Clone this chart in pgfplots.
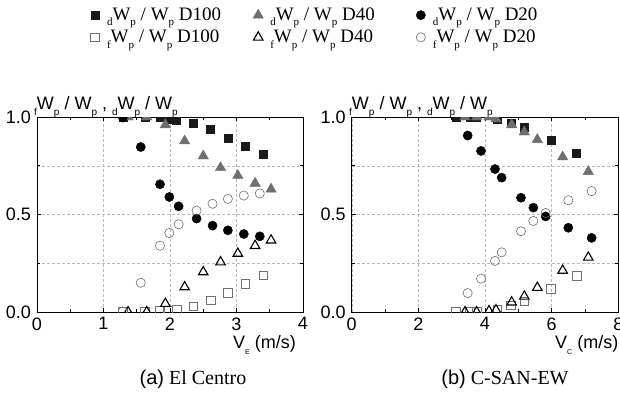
\documentclass[border=0pt]{standalone}
\usepackage{fontspec}
\setmainfont{Liberation Serif}
\setsansfont{Liberation Sans}
\usepackage{pgfplots}
\pgfplotsset{compat=1.18}
\newcommand\sbs[1]{\raisebox{-0.55ex}{\fontsize{10}{10}\selectfont #1}}
\newcommand\lsb[1]{\raisebox{-0.6ex}{\fontsize{11}{11}\selectfont #1}}
\definecolor{tri}{HTML}{6E6E6E}
\definecolor{opn}{HTML}{707070}
\pgfplotsset{
  myaxis/.style={
    scale only axis, height=195pt,
    ymin=0, ymax=1, ytick={0,0.5,1},
    minor ytick={0.25,0.75},
    yticklabels={0.0,0.5,1.0},
    xmajorgrids, ymajorgrids, yminorgrids,
    major grid style={densely dashed, gray!55, line width=0.4pt},
    minor grid style={densely dashed, gray!55, line width=0.4pt},
    tick align=inside, major tick length=4pt, minor tick length=3pt,
    tick style={black, line width=0.6pt},
    axis line style={line width=0.8pt},
    ticklabel style={font=\fontsize{18}{18}\sffamily},
    /pgf/number format/assume math mode=true,
    xticklabel style={yshift=-2pt},
    yticklabel style={xshift=-2.5pt},
    clip mode=individual, clip marker paths=true,
    legend image code/.code={\draw[mark repeat=2,mark phase=2,#1] plot coordinates {(0pt,0pt) (5pt,0pt) (10pt,0pt)}; \path[draw=none,fill=none,mark=none] (15pt,0pt) circle (0.01pt);},
  },
  sq/.style={only marks, mark=square*, mark size=4pt, mark options={fill=black!90, draw=black!90}},
  tr/.style={only marks, mark=triangle*, mark size=6pt, mark options={fill=tri, draw=tri}},
  ci/.style={only marks, mark=*, mark size=4.6pt, mark options={fill=black, draw=black}},
  osq/.style={only marks, mark=square, mark size=4.3pt, mark options={draw=opn, line width=0.6pt, fill=none}},
  otr/.style={only marks, mark=triangle, mark size=5.5pt, mark options={draw=black, line width=1.1pt, fill=none}},
  oci/.style={only marks, mark=o, mark size=4.6pt, mark options={draw=opn, line width=0.6pt, fill=none}},
}
\begin{document}
\begin{tikzpicture}[x=1pt,y=1pt]
\path[use as bounding box] (0,0) rectangle (620,394);
\begin{axis}[myaxis, at={(37pt,82pt)}, anchor=south west, width=266pt,
  xmin=0, xmax=4, xtick={0,1,2,3,4}, minor xtick={0.5,1.5,2.5,3.5},
  legend columns=3,
  legend cell align=left,
  legend style={draw=none, fill=none, at={(0.19,1.58)}, anchor=north west,
    font=\fontsize{19}{19}\selectfont, row sep=4pt,
    /tikz/every even column/.append style={column sep=14pt}},
]
\addplot[sq] coordinates {(1.29,1.0) (1.62,1.0) (1.85,1.0) (1.97,0.99) (2.10,0.985) (2.35,0.97) (2.61,0.935) (2.87,0.89) (3.13,0.85) (3.40,0.81)};
\addlegendentry{\makebox[130pt][l]{\lsb{d}W\lsb{p} / W\lsb{p} D100}}
\addplot[tr] coordinates {(1.37,1.0) (1.65,1.0) (1.93,0.96) (2.22,0.877) (2.50,0.80) (2.76,0.74) (3.02,0.70) (3.28,0.66) (3.52,0.63)};
\addlegendentry{\makebox[130pt][l]{\lsb{d}W\lsb{p} / W\lsb{p} D40}}
\addplot[ci] coordinates {(1.29,0.997) (1.56,0.846) (1.85,0.655) (1.99,0.59) (2.13,0.542) (2.40,0.479) (2.64,0.443) (2.87,0.419) (3.11,0.40) (3.35,0.388)};
\addlegendentry{\lsb{d}W\lsb{p} / W\lsb{p} D20}
\addplot[osq] coordinates {(1.29,0) (1.62,0) (1.85,0.005) (1.97,0.008) (2.10,0.012) (2.35,0.03) (2.61,0.06) (2.87,0.10) (3.13,0.145) (3.40,0.188)};
\addlegendentry{\makebox[130pt][l]{\lsb{f}W\lsb{p} / W\lsb{p} D100}}
\addplot[otr] coordinates {(1.37,0) (1.65,0) (1.93,0.043) (2.22,0.128) (2.50,0.205) (2.76,0.256) (3.02,0.30) (3.28,0.34) (3.52,0.368)};
\addlegendentry{\makebox[130pt][l]{\lsb{f}W\lsb{p} / W\lsb{p} D40}}
\addplot[oci] coordinates {(1.29,0.003) (1.56,0.15) (1.85,0.34) (1.99,0.405) (2.13,0.45) (2.40,0.52) (2.64,0.555) (2.87,0.58) (3.11,0.597) (3.35,0.608)};
\addlegendentry{\lsb{f}W\lsb{p} / W\lsb{p} D20}
\end{axis}
\begin{axis}[myaxis, at={(351.7pt,82pt)}, anchor=south west, width=266.6pt,
  xmin=0, xmax=8, xtick={0,2,4,6,8}, minor xtick={1,3,5,7},
]
\addplot[sq] coordinates {(3.13,1.0) (3.55,1.0) (3.75,1.0) (4.37,0.988) (4.78,0.97) (5.18,0.95) (5.98,0.88) (6.75,0.815)};
\addplot[tr] coordinates {(3.40,1.0) (3.75,1.0) (4.12,1.0) (4.33,0.99) (4.80,0.96) (5.18,0.923) (5.57,0.884) (6.33,0.795) (7.10,0.72)};
\addplot[ci] coordinates {(3.48,0.905) (3.88,0.826) (4.30,0.733) (4.50,0.689) (5.08,0.586) (5.45,0.535) (5.82,0.49) (6.50,0.432) (7.20,0.38)};
\addplot[osq] coordinates {(3.13,0) (3.55,0) (3.75,0) (4.37,0.014) (4.78,0.034) (5.18,0.055) (5.98,0.118) (6.75,0.186)};
\addplot[otr] coordinates {(3.40,0) (3.75,0) (4.12,0.005) (4.33,0.01) (4.80,0.05) (5.18,0.08) (5.57,0.125) (6.33,0.213) (7.10,0.28)};
\addplot[oci] coordinates {(3.48,0.097) (3.88,0.171) (4.30,0.262) (4.50,0.306) (5.08,0.414) (5.45,0.467) (5.82,0.508) (6.50,0.573) (7.20,0.62)};
\end{axis}
% axis titles at top
\node[anchor=base west, inner sep=0pt, font=\fontsize{18}{18}\sffamily] at (34,284) {\sbs{f}W\sbs{p} / W\sbs{p} , \sbs{d}W\sbs{p} / W\sbs{p}};
\node[anchor=base west, inner sep=0pt, font=\fontsize{18}{18}\sffamily] at (349,284) {\sbs{f}W\sbs{p} / W\sbs{p} , \sbs{d}W\sbs{p} / W\sbs{p}};
% x labels
\node[anchor=base west, inner sep=0pt, font=\fontsize{18}{18}\sffamily] at (233,46) {V\raisebox{-0.7ex}{\fontsize{7}{7}\selectfont E} (m/s)};
\node[anchor=base west, inner sep=0pt, font=\fontsize{18}{18}\sffamily] at (555,46) {V\raisebox{-0.7ex}{\fontsize{7}{7}\selectfont C} (m/s)};
% captions
\node[anchor=base, inner sep=0pt, font=\fontsize{20}{20}\selectfont] at (193,10) {{\sffamily (a)} El Centro};
\node[anchor=base, inner sep=0pt, font=\fontsize{20}{20}\selectfont] at (505,10) {{\sffamily (b)} C-SAN-EW};
\end{tikzpicture}
\end{document}
